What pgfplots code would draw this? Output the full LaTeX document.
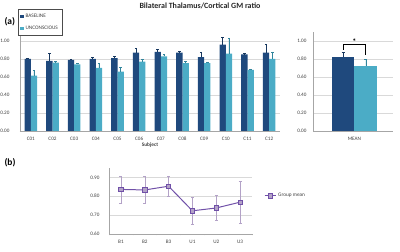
\documentclass[border=0pt]{standalone}
\usepackage{fontspec}
\setmainfont{Carlito}
\usepackage{pgfplots}
\usepackage{pgfplotstable}
\pgfplotsset{compat=1.18}
\definecolor{dblue}{HTML}{1F497D}
\definecolor{lblue}{HTML}{4BACC6}
\definecolor{dblueerr}{HTML}{17375E}
\definecolor{lblueerr}{HTML}{31859C}
\definecolor{purp}{HTML}{7050A8}
\definecolor{lpurp}{HTML}{B3A2C7}
\definecolor{gridgray}{HTML}{D9D9D9}
\definecolor{axisgray}{HTML}{A6A6A6}
\definecolor{tickgray}{HTML}{404040}

\pgfplotstableread{
x b be u ue
0 0.80 0.01 0.615 0.055
1 0.78 0.08 0.76 0.01
2 0.79 0.01 0.74 0.01
3 0.80 0.02 0.70 0.05
4 0.81 0.02 0.66 0.05
5 0.87 0.05 0.77 0.03
6 0.88 0.025 0.83 0.025
7 0.87 0.015 0.755 0.025
8 0.82 0.06 0.755 0.01
9 0.96 0.08 0.86 0.17
10 0.85 0.01 0.68 0.01
11 0.87 0.09 0.80 0.08
}\subj

\pgfplotstableread{
x b be u ue
0.5175 0.82 0.05 0.725 0.07
}\meantab

\pgfplotstableread{
x y e
0 0.836 0.072
1 0.833 0.073
2 0.853 0.055
3 0.722 0.074
4 0.737 0.066
5 0.768 0.110
}\grp

\pgfplotsset{
  common/.style={
    scale only axis,
    anchor=south west,
    axis x line*=bottom, axis y line*=left,
    axis line style={axisgray, line width=0.4pt},
    ymajorgrids, grid style={gridgray, line width=0.4pt},
    major tick length=0pt,
    tick label style={font=\fontsize{5.2}{6}\selectfont, text=tickgray},
    yticklabel style={/pgf/number format/fixed, /pgf/number format/fixed zerofill,
      /pgf/number format/precision=2, /pgf/number format/assume math mode=true},
    xticklabel style={yshift=-2.5bp},
  },
}

\begin{document}
\begin{tikzpicture}
\useasboundingbox (0,0) rectangle (400bp,252bp);

% Title and panel labels
\node[font=\fontsize{8}{9}\selectfont\bfseries, text=black!85] at (200bp,246bp) {Bilateral Thalamus/Cortical GM ratio};
\node[font=\fontsize{9.5}{10}\selectfont\bfseries, anchor=west] at (1bp,230bp) {(a)};
\node[font=\fontsize{9.5}{10}\selectfont\bfseries, anchor=west] at (1bp,89bp) {(b)};

% (a) subjects
\begin{axis}[common,
  width=260bp, height=99bp, at={(20bp,121bp)},
  xmin=-0.5, xmax=11.5, ymin=0, ymax=1.1,
  ytick={0,0.2,0.4,0.6,0.8,1.0},
  yticklabel style={xshift=-7bp},
  xtick={0,...,11},
  xticklabels={C01,C02,C03,C04,C05,C06,C07,C08,C09,C10,C11,C12},
  xlabel={Subject},
  xlabel style={font=\fontsize{5.3}{6}\selectfont\bfseries, text=tickgray, yshift=4.5bp},
  ybar, bar width=0.29,
  legend style={at={(-0.007,1.232)}, anchor=north west, draw=black!70, line width=0.4pt,
    font=\fontsize{5.3}{6}\selectfont, text=tickgray, legend cell align=left,
    inner xsep=2pt, inner ysep=2.5pt, row sep=3.5pt},
  legend image code/.code={\fill[#1] (0bp,-1.6bp) rectangle (3.2bp,1.6bp);},
]
\addplot[fill=dblue, draw=none, bar shift=-0.145,
  error bars/.cd, y dir=plus, y explicit,
  error bar style={dblueerr, line width=0.4pt},
  error mark options={rotate=90, mark size=1.2bp, dblueerr}]
  table[x=x, y=b, y error=be]{\subj};
\addplot[fill=lblue, draw=none, bar shift=0.145,
  error bars/.cd, y dir=plus, y explicit,
  error bar style={lblueerr, line width=0.4pt},
  error mark options={rotate=90, mark size=1.2bp, lblueerr}]
  table[x=x, y=u, y error=ue]{\subj};
\legend{BASELINE,UNCONSCIOUS}
\end{axis}

% (a) mean
\begin{axis}[common,
  width=80bp, height=99bp, at={(313bp,121bp)},
  xmin=0, xmax=1, ymin=0, ymax=1.1,
  ytick={0,0.2,0.4,0.6,0.8,1.0},
  yticklabel style={xshift=-3bp},
  xtick={0.5175}, xticklabels={MEAN},
  ybar, bar width=0.284,
  clip=false,
]
\addplot[fill=dblue, draw=none, bar shift=-0.142,
  error bars/.cd, y dir=plus, y explicit,
  error bar style={dblueerr, line width=0.4pt},
  error mark options={rotate=90, mark size=1.5bp, dblueerr}]
  table[x=x, y=b, y error=be]{\meantab};
\addplot[fill=lblue, draw=none, bar shift=0.142,
  error bars/.cd, y dir=plus, y explicit,
  error bar style={lblueerr, line width=0.4pt},
  error mark options={rotate=90, mark size=1.5bp, lblueerr}]
  table[x=x, y=u, y error=ue]{\meantab};
\draw[black, line width=0.9pt] (axis cs:0.3755,0.90) -- (axis cs:0.3755,0.96) -- (axis cs:0.6595,0.96) -- (axis cs:0.6595,0.84);
\node[font=\fontsize{8}{8}\selectfont\bfseries] at (axis cs:0.5175,0.99) {*};
\end{axis}

% (b) group mean
\begin{axis}[common,
  width=143bp, height=65.7bp, at={(109bp,18.3bp)},
  xmin=-0.5, xmax=5.5, ymin=0.6, ymax=0.95,
  ytick={0.6,0.7,0.8,0.9},
  yticklabel style={xshift=-6bp},
  xtick={0,...,5}, xticklabels={B1,B2,B3,U1,U2,U3},
  minor xtick={-0.5,0.5,...,5.5}, minor tick length=1.8bp,
  tick align=outside, minor tick style={axisgray, line width=0.4pt},
  legend style={at={(1.077,0.574)}, anchor=west, draw=none, fill=none,
    font=\fontsize{5.3}{6}\selectfont, text=tickgray, inner sep=1pt},
  legend image code/.code={\draw[#1, line width=1pt] (0bp,0bp) -- (11bp,0bp); \draw[#1, mark repeat=1] plot coordinates {(5.5bp,0bp)};},
]
\addplot[color=purp, line width=1pt, mark=square*, mark size=2.2bp,
  mark options={fill=lpurp, draw=purp, line width=0.6pt},
  error bars/.cd, y dir=both, y explicit,
  error bar style={lpurp, line width=0.5pt},
  error mark options={rotate=90, mark size=1.5bp, lpurp, line width=0.5pt}]
  table[x=x, y=y, y error=e]{\grp};
\legend{Group mean}
\end{axis}
\end{tikzpicture}
\end{document}
